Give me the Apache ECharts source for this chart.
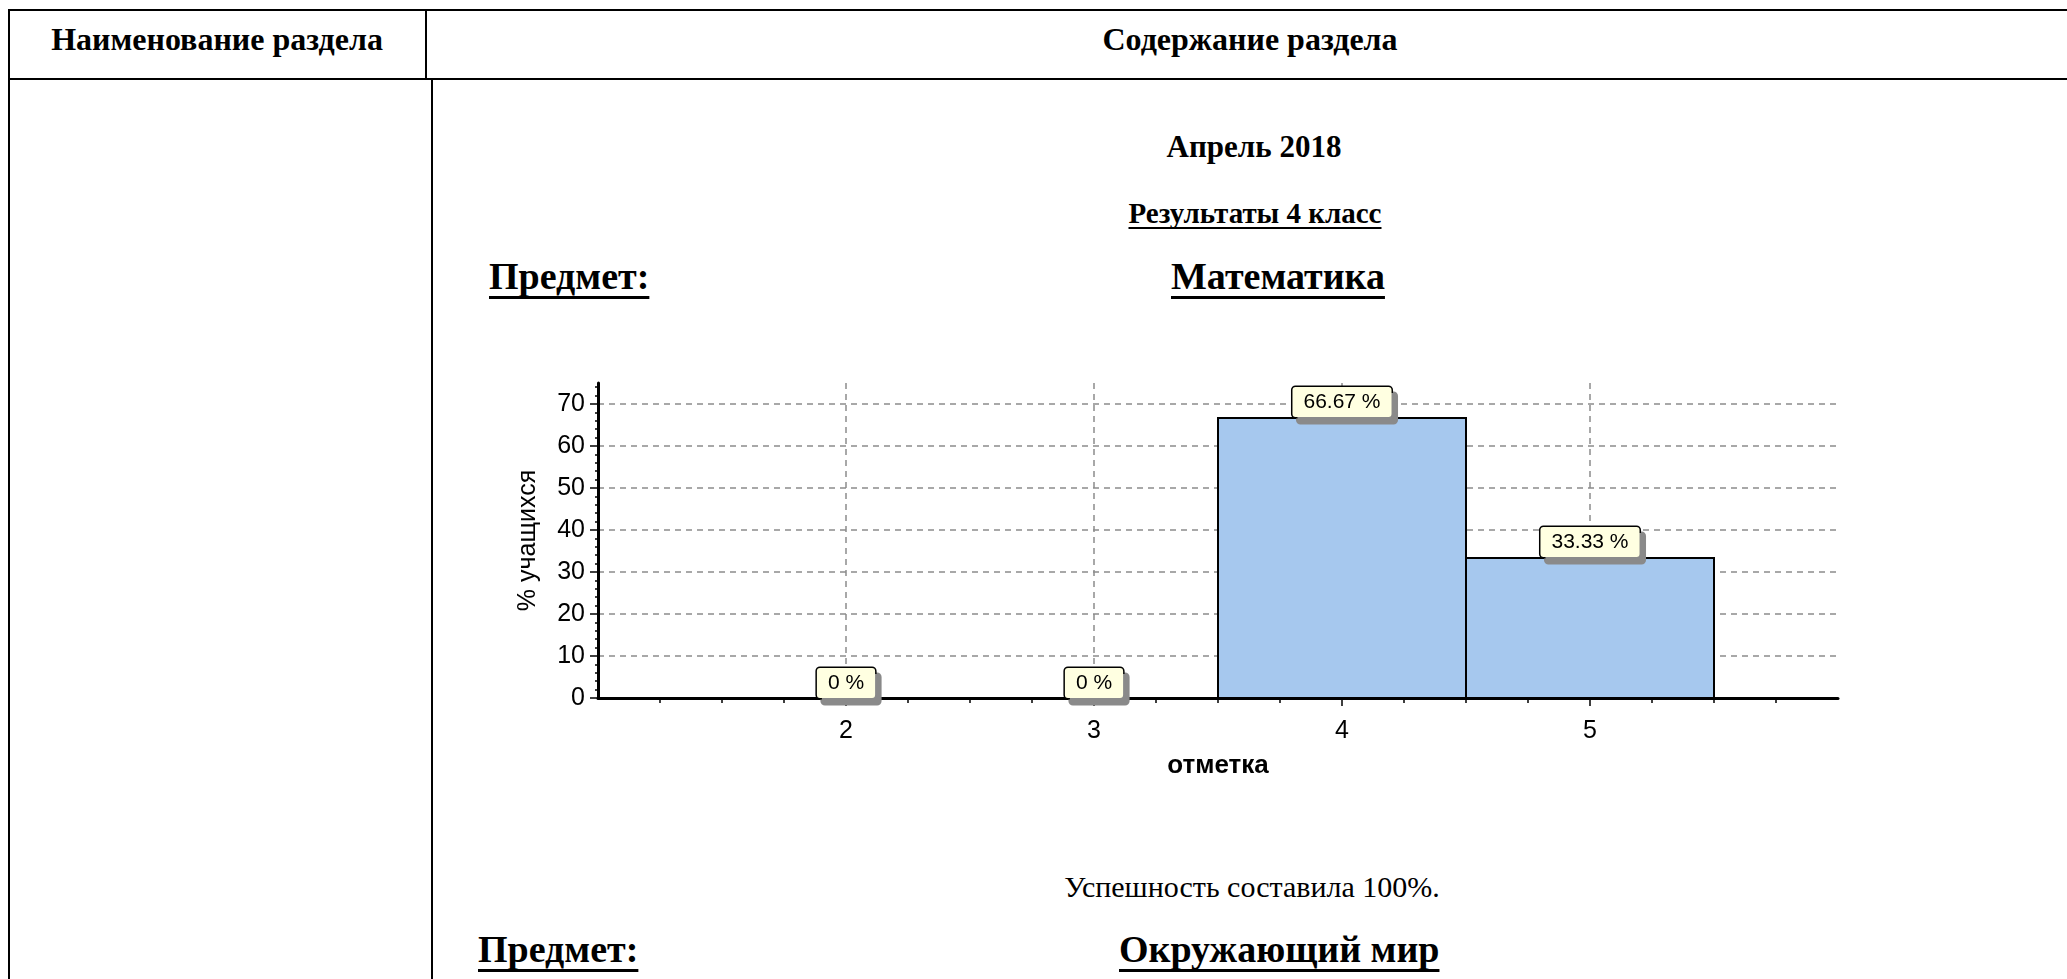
<!DOCTYPE html>
<html>
<head>
<meta charset="utf-8">
<title>Результаты 4 класс</title>
<script src="https://cdn.jsdelivr.net/npm/echarts@6/dist/echarts.min.js"></script>
<style>
  html, body {
    margin: 0;
    padding: 0;
    background: #fff;
    width: 2067px;
    height: 979px;
    overflow: hidden;
    position: relative;
  }
  .ln { position: absolute; background: #000; }
  .t {
    position: absolute;
    white-space: nowrap;
    font-family: "Liberation Serif", "Times New Roman", serif;
    line-height: 1;
    color: #000;
  }
  .b { font-weight: bold; }
  .c { transform: translateX(-50%); }
  .u {
    text-decoration: underline;
    text-decoration-thickness: 3px;
    text-underline-offset: 7px;
    text-decoration-skip-ink: none;
  }
  #chart {
    position: absolute;
    left: 440px;
    top: 360px;
    width: 1500px;
    height: 460px;
  }
</style>
</head>
<body>
  <!-- рамка таблицы -->
  <div class="ln" style="left:8px;top:9px;width:2070px;height:2px"></div>
  <div class="ln" style="left:8px;top:9px;width:2px;height:980px"></div>
  <div class="ln" style="left:8px;top:78px;width:2070px;height:2px"></div>
  <div class="ln" style="left:425px;top:9px;width:2px;height:71px"></div>
  <div class="ln" style="left:431px;top:78px;width:2px;height:901px"></div>

  <div class="t b c" style="left:217px;top:23px;font-size:32px">Наименование раздела</div>
  <div class="t b c" style="left:1250px;top:23px;font-size:32px">Содержание раздела</div>

  <div class="t b c" style="left:1254px;top:131px;font-size:31px">Апрель 2018</div>
  <div class="t b c u" style="left:1255px;top:199px;font-size:29px;text-decoration-thickness:2px;text-underline-offset:4px">Результаты 4 класс</div>
  <div class="t b u" style="left:489px;top:257px;font-size:38px">Предмет:</div>
  <div class="t b u" style="left:1171px;top:257px;font-size:38px">Математика</div>

  <div id="chart"></div>

  <div class="t c" style="left:1252px;top:872px;font-size:30px">Успешность составила 100%.</div>
  <div class="t b u" style="left:478px;top:930px;font-size:38px">Предмет:</div>
  <div class="t b u" style="left:1119px;top:930px;font-size:38px">Окружающий мир</div>

<script>
// отметки и проценты учащихся
var marks = [2, 3, 4, 5];
var percents = [0, 0, 66.67, 33.33];
var yTicks = [0, 10, 20, 30, 40, 50, 60, 70];
var xTicks = [2, 3, 4, 5];

var chart = echarts.init(document.getElementById('chart'));

var data = [];
for (var i = 0; i < marks.length; i++) {
  data.push([marks[i], percents[i]]);
}

var sans = '"Liberation Sans", Arial, sans-serif';

chart.setOption({
  animation: false,
  grid: {
    left: 158,
    top: 23,
    right: 102,
    bottom: 122
  },
  xAxis: {
    type: 'value',
    min: 1,
    max: 6,
    interval: 1,
    name: 'отметка',
    nameLocation: 'middle',
    nameGap: 55,
    nameTextStyle: { fontFamily: sans, fontSize: 26, fontWeight: 'bold', color: '#000' },
    axisLine: { show: true, onZero: false, lineStyle: { color: '#000', width: 3 } },
    axisTick: { show: true, customValues: xTicks, length: 8, lineStyle: { color: '#000', width: 1.5 } },
    minorTick: { show: true, splitNumber: 4, length: 5, lineStyle: { color: '#000', width: 1.5 } },
    axisLabel: { customValues: xTicks, fontFamily: sans, fontSize: 25, color: '#000', margin: 21 },
    splitLine: { show: true, lineStyle: { color: '#8c8c8c', width: 1.5, type: [6, 5] } }
  },
  yAxis: {
    type: 'value',
    min: 0,
    max: 75,
    interval: 10,
    name: '% учащихся',
    nameLocation: 'middle',
    nameGap: 57,
    nameTextStyle: { fontFamily: sans, fontSize: 25, color: '#000' },
    axisLine: { show: true, lineStyle: { color: '#000', width: 3 } },
    axisTick: { show: true, customValues: yTicks, length: 8, lineStyle: { color: '#000', width: 1.5 } },
    minorTick: { show: true, splitNumber: 5, length: 3, lineStyle: { color: '#000', width: 1.5 } },
    axisLabel: { customValues: yTicks, fontFamily: sans, fontSize: 25, color: '#000', margin: 13 },
    splitLine: { show: true, lineStyle: { color: '#8c8c8c', width: 1.5, type: [6, 5] } }
  },
  series: [{
    type: 'custom',
    data: data,
    renderItem: function (params, api) {
      var x = api.value(0);
      var y = api.value(1);
      var p0 = api.coord([x - 0.5, y]);
      var p1 = api.coord([x + 0.5, 0]);
      return {
        type: 'rect',
        shape: { x: p0[0], y: p0[1], width: p1[0] - p0[0], height: p1[1] - p0[1] },
        style: {
          fill: y > 0 ? '#A6C8EE' : 'none',
          stroke: y > 0 ? '#000' : 'none',
          lineWidth: 2
        },
        textContent: {
          style: {
            text: y + ' %',
            font: '21px ' + sans,
            fill: '#000',
            backgroundColor: '#FFFFE1',
            borderColor: '#000',
            borderWidth: 1.5,
            borderRadius: 3,
            padding: [5, 11, 4, 11],
            shadowColor: '#8a8a8a',
            shadowBlur: 0,
            shadowOffsetX: 5,
            shadowOffsetY: 6
          }
        },
        textConfig: { position: 'top', distance: 0 }
      };
    }
  }]
});
</script>
</body>
</html>
